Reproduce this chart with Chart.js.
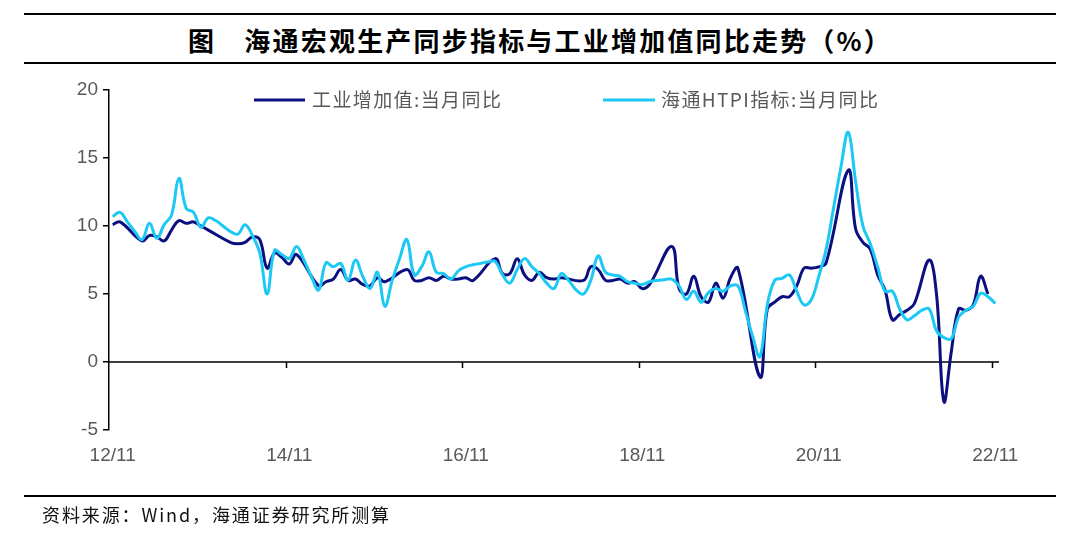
<!DOCTYPE html>
<html><head><meta charset="utf-8">
<script src="https://cdn.jsdelivr.net/npm/chart.js@4.4.1/dist/chart.umd.min.js"></script>
<style>
html,body{margin:0;padding:0;background:#fff;}
#wrap{position:relative;width:1080px;height:539px;overflow:hidden;background:#fff;}
#c{position:absolute;left:0;top:0;width:1080px;height:539px;}
.rule{position:absolute;left:24px;width:1032px;height:2px;background:#000;}
#title{position:absolute;left:0;width:1080px;top:22px;text-align:center;font-weight:bold;font-size:26px;font-family:"Noto Sans CJK SC";letter-spacing:2.2px;line-height:36px;color:#000;}
#src{position:absolute;left:42px;top:502px;font-size:18px;font-family:"Noto Sans CJK SC";letter-spacing:1.9px;line-height:24px;color:#111;}
</style></head>
<body><div id="wrap">
<div class="rule" style="top:13px"></div>
<div id="title">图　海通宏观生产同步指标与工业增加值同比走势（%）</div>
<div class="rule" style="top:62px"></div>
<canvas id="c" width="1080" height="539"></canvas>
<div class="rule" style="top:495px"></div>
<div id="src">资料来源：Wind，海通证券研究所测算</div>
</div>
<script>
// ---- data ----
const seriesNames = ['工业增加值:当月同比', '海通HTPI指标:当月同比'];
const tickLabels = ['12/11', '14/11', '16/11', '18/11', '20/11', '22/11'];
// months from 2012-11 to 2022-11
const months = [];
for (let y = 2012, m = 11; y < 2022 || (y === 2022 && m <= 11); ) {
  months.push(y + '-' + String(m).padStart(2, '0'));
  m++; if (m > 12) { m = 1; y++; }
}
// 工业增加值:当月同比 (Jan/Feb mostly blank)
const iva = [
  10.1, 10.3, null, null, 8.9, 9.3, 9.2, 8.9, 9.7, 10.4, 10.2, 10.3, 10.0, 9.7,
  null, null, 8.8, 8.7, 8.8, 9.2, 9.0, 6.9, 8.0, 7.7, 7.2, 7.9,
  null, null, 5.6, 5.9, 6.1, 6.8, 6.0, 6.1, 5.7, 5.6, 6.2, 5.9,
  null, null, 6.8, 6.0, 6.0, 6.2, 6.0, 6.3, 6.1, 6.1, 6.2, 6.0,
  null, null, 7.6, 6.5, 6.5, 7.6, 6.4, 6.0, 6.6, 6.2, 6.1, 6.2,
  null, null, 6.0, 7.0, 6.8, 6.0, 6.0, 6.1, 5.8, 5.9, 5.4, 5.7,
  null, null, 8.5, 5.4, 5.0, 6.3, 4.8, 4.4, 5.8, 4.7, 6.2, 6.9,
  null, null, -1.1, 3.9, 4.4, 4.8, 4.8, 5.6, 6.9, 6.9, 7.0, 7.3,
  null, null, 14.1, 9.8, 8.8, 8.3, 6.4, 5.3, 3.1, 3.5, 3.8, 4.3,
  null, 7.5, 5.0, -2.9, 0.7, 3.9, 3.8, 4.2, 6.3, 5.0, null
];
// 海通HTPI指标:当月同比
const htpi = [
  10.7, 11.0, 10.3, 9.6, 9.0, 10.2, 9.1, 10.1, 10.8, 13.5, 11.3, 11.0, 9.9, 10.6,
  10.4, 10.0, 9.6, 9.4, 10.1, 9.3, 8.0, 5.0, 8.2, 7.9, 7.6, 8.5,
  7.5, 6.3, 5.3, 7.3, 7.0, 7.25, 6.0, 7.5, 6.3, 5.4, 6.6, 4.1,
  6.0, 7.6, 9.0, 6.4, 7.0, 8.1, 6.6, 6.5, 6.1, 6.7, 7.0, 7.15,
  7.25, 7.35, 7.4, 6.4, 5.8, 6.8, 7.6, 7.0, 6.5, 5.8, 5.4, 6.5,
  6.0, 5.3, 5.0, 6.0, 7.8, 6.6, 6.4, 6.3, 5.9, 5.8, 5.7, 5.9,
  6.0, 6.05, 6.1, 5.6, 4.6, 5.2, 4.4, 5.1, 5.4, 5.2, 5.6, 5.6,
  3.8, 1.9, 0.4, 4.2, 6.0, 6.15, 6.4, 5.2, 4.2, 4.6, 6.3, 8.3,
  11.3, 14.3, 16.9, 13.3, 10.0, 8.7, 7.0, 5.2, 5.2, 3.9, 3.1, 3.4,
  3.8, 3.9, 2.3, 1.8, 1.7, 3.3, 3.8, 4.1, 5.05, 4.8, 4.3
];
const yTicks = [-5, 0, 5, 10, 15, 20];

const navy = '#0c0f80';
const cyan = '#1cc8f4';
const textGray = '#595959';
const numFont = '"Liberation Sans Narrow", "Liberation Sans", Arial';

const axisPlugin = {
  id: 'axisDecor',
  beforeDatasetsDraw(chart) {
    const ctx = chart.ctx, xs = chart.scales.x, ys = chart.scales.y, ca = chart.chartArea;
    const y0 = ys.getPixelForValue(0);
    const half = (xs.getPixelForValue(1) - xs.getPixelForValue(0)) / 2;
    ctx.save();
    ctx.strokeStyle = '#000';
    ctx.lineWidth = 1.5;
    ctx.beginPath();
    ctx.moveTo(ca.left, y0); ctx.lineTo(ca.right, y0);
    for (let i = 24; i < months.length; i += 24) {
      const x = Math.round(xs.getPixelForValue(i) - half) + 0.5;
      ctx.moveTo(x, y0); ctx.lineTo(x, y0 + 6);
    }
    ctx.stroke();
    ctx.restore();
  },
  afterDraw(chart) {
    const ctx = chart.ctx;
    ctx.save();
    ctx.font = '19px "Noto Sans CJK SC"';
    try { ctx.letterSpacing = '1.4px'; } catch (e) {}
    ctx.fillStyle = textGray;
    ctx.textBaseline = 'middle';
    const items = [[254, 305, 312, navy, seriesNames[0]], [603, 655, 661, cyan, seriesNames[1]]];
    for (const [x1, x2, tx, col, txt] of items) {
      ctx.strokeStyle = col; ctx.lineWidth = 3;
      ctx.beginPath(); ctx.moveTo(x1, 100); ctx.lineTo(x2, 100); ctx.stroke();
      ctx.fillText(txt, tx, 100);
    }
    ctx.restore();
  }
};

new Chart(document.getElementById('c'), {
  type: 'line',
  data: {
    labels: months,
    datasets: [
      { label: seriesNames[0], data: iva, borderColor: navy, backgroundColor: navy, borderWidth: 3,
        pointRadius: 0, tension: 0.4, spanGaps: true, order: 2 },
      { label: seriesNames[1], data: htpi, borderColor: cyan, backgroundColor: cyan, borderWidth: 3,
        pointRadius: 0, tension: 0.4, spanGaps: true, order: 1 }
    ]
  },
  options: {
    responsive: false,
    animation: false,
    layout: { padding: { left: 0, top: 90, right: 81, bottom: 0 } },
    plugins: { legend: { display: false }, tooltip: { enabled: false } },
    scales: {
      x: {
        type: 'category',
        offset: true,
        grid: { display: false, drawTicks: false },
        border: { display: false },
        ticks: {
          autoSkip: false, maxRotation: 0, padding: 14,
          color: textGray, font: { family: numFont, size: 19 },
          callback: (v, i) => (i % 24 === 0 ? tickLabels[i / 24] : '')
        },
        afterFit: (s) => { s.height = 109; }
      },
      y: {
        min: -5, max: 20,
        afterBuildTicks: (s) => { s.ticks = yTicks.map(v => ({ value: v })); },
        grid: { drawOnChartArea: false, drawTicks: true, tickLength: 6, color: '#000', lineWidth: 1.5 },
        border: { display: true, color: '#000', width: 1.5 },
        ticks: { padding: 5, color: textGray, font: { family: numFont, size: 19 } },
        afterFit: (s) => { s.width = 109; }
      }
    }
  },
  plugins: [axisPlugin]
});
</script>
</body></html>
